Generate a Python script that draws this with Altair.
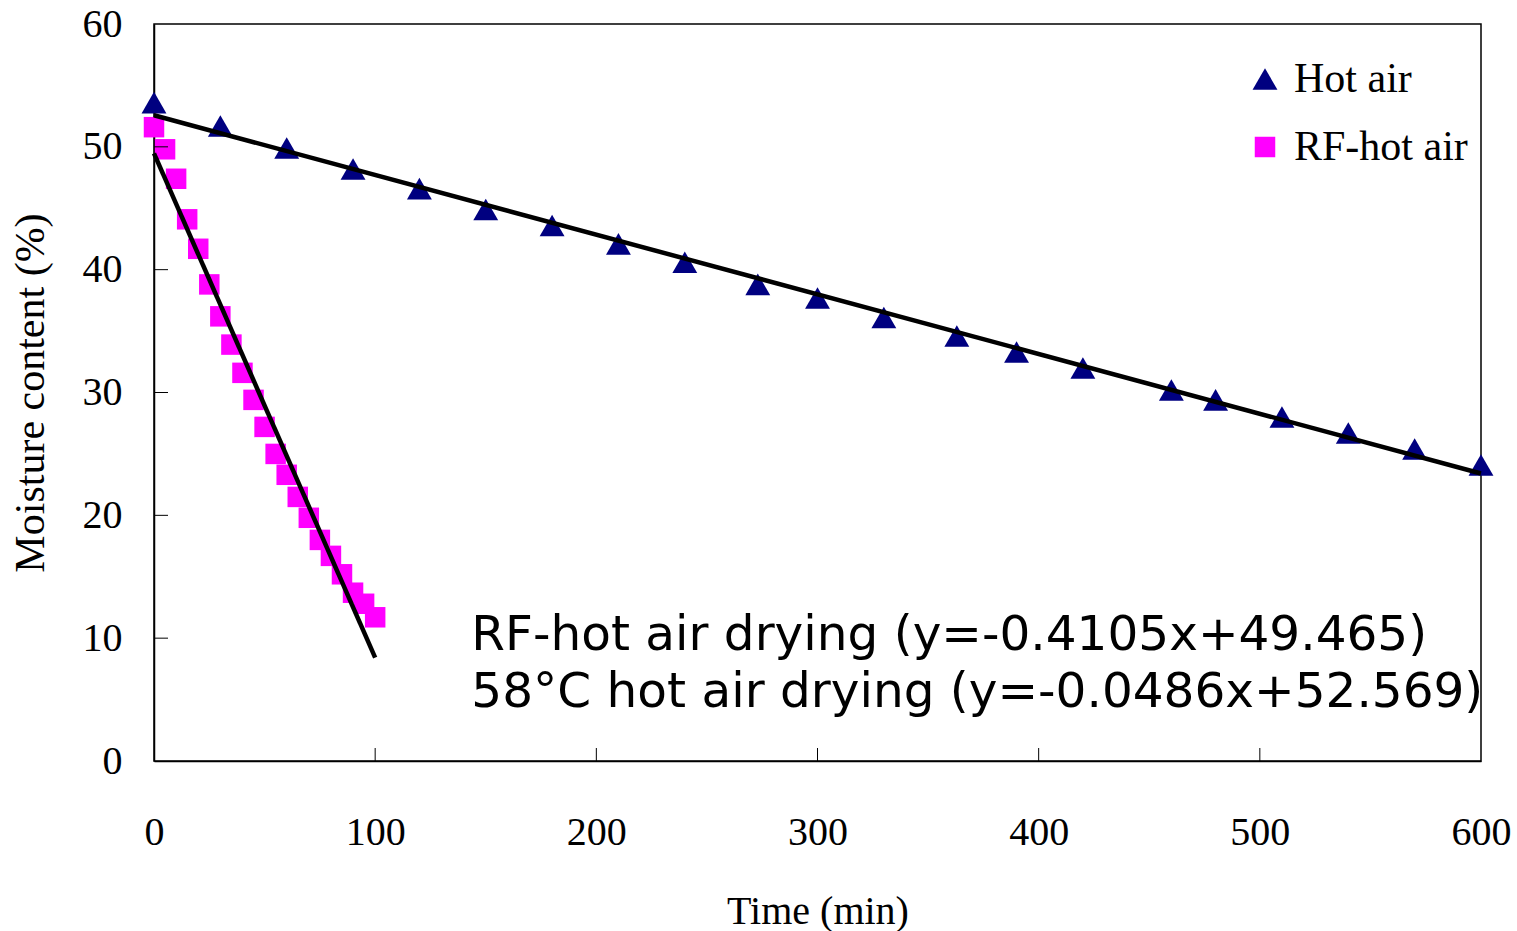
import altair as alt
import pandas as pd

# ---- data ----
hot_x = [0, 30, 60, 90, 120, 150, 180, 210, 240, 273, 300, 330, 363, 390, 420,
         460, 480, 510, 540, 570, 600]
hot_y = [53.6, 51.7, 49.9, 48.2, 46.6, 44.9, 43.6, 42.1, 40.6, 38.8, 37.7, 36.1,
         34.6, 33.3, 32.0, 30.2, 29.4, 28.0, 26.7, 25.4, 24.1]
rf_x = [0, 5, 10, 15, 20, 25, 30, 35, 40, 45, 50, 55, 60, 65, 70, 75, 80, 85,
        90, 95, 100]
rf_y = [51.6, 49.8, 47.4, 44.1, 41.7, 38.8, 36.2, 33.9, 31.6, 29.4, 27.2, 25.0,
        23.3, 21.5, 19.8, 18.0, 16.7, 15.2, 13.7, 12.8, 11.7]

series_names = ["Hot air", "RF-hot air"]
series_colors = ["#000080", "#FF00FF"]
series_shapes = ["triangle-up", "square"]
series_sizes = [620, 420]

# trendlines (slope, intercept, x-range) as printed on the chart
fit_slope = [-0.0486, -0.4105]
fit_intercept = [52.569, 49.465]
fit_xmin = [0, 0]
fit_xmax = [600, 100]

annot_text = ["RF-hot air drying (y=-0.4105x+49.465)",
              "58\u00b0C hot air drying (y=-0.0486x+52.569)"]
annot_x = [143.5, 143.5]
annot_y = [9.05, 4.4]

x_ticks = [100, 200, 300, 400, 500]
y_ticks = [10, 20, 30, 40, 50]

# ---- tables ----
pts = pd.DataFrame(
    {"t": hot_x + rf_x, "m": hot_y + rf_y,
     "series": ["Hot air"] * len(hot_x) + ["RF-hot air"] * len(rf_x)}
)
fit_rows = []
for s, b, x0, x1, name in zip(fit_slope, fit_intercept, fit_xmin, fit_xmax, series_names):
    for xv in (x0, x1):
        fit_rows.append({"t": xv, "m": s * xv + b, "series": name})
fits = pd.DataFrame(fit_rows)
ann = pd.DataFrame({"t": annot_x, "m": annot_y, "label": annot_text})

W, H = 1327, 737
xscale = alt.Scale(domain=[0, 600], nice=False, zero=False)
yscale = alt.Scale(domain=[0, 60], nice=False, zero=False)

serif = "Liberation Serif"

xaxis = alt.Axis(values=[0, 100, 200, 300, 400, 500, 600], ticks=False, grid=False,
                 labelFont=serif, labelFontSize=40, labelColor="black",
                 labelPadding=51, labelFlush=False,
                 domainColor="black", domainWidth=1.5,
                 title="Time (min)", titleFont=serif, titleFontSize=40,
                 titleFontWeight="normal", titleColor="black",
                 titleBaseline="middle", titleY=150, titleX=W / 2)
yaxis = alt.Axis(values=[0, 10, 20, 30, 40, 50, 60], ticks=False, grid=False,
                 labelFont=serif, labelFontSize=40, labelColor="black",
                 labelPadding=32, labelFlush=False,
                 domainColor="black", domainWidth=1.5,
                 title="Moisture content (%)", titleFont=serif, titleFontSize=42,
                 titleFontWeight="normal", titleColor="black",
                 titleAngle=-90, titleBaseline="middle", titleAlign="center",
                 titleX=-124, titleY=H / 2)


def make_legend():
    return alt.Legend(title=None, orient="none", legendX=1090, legendY=34,
                      labelFont=serif, labelFontSize=42, labelColor="black",
                      labelOffset=8, labelLimit=0, rowPadding=26, padding=0,
                      symbolStrokeWidth=0, symbolOpacity=1)


points = alt.Chart(pts).mark_point(filled=True, opacity=1).encode(
    x=alt.X("t:Q", scale=xscale, axis=xaxis),
    y=alt.Y("m:Q", scale=yscale, axis=yaxis),
    color=alt.Color("series:N",
                    scale=alt.Scale(domain=series_names, range=series_colors),
                    legend=make_legend()),
    shape=alt.Shape("series:N",
                    scale=alt.Scale(domain=series_names, range=series_shapes),
                    legend=make_legend()),
    size=alt.Size("series:N",
                  scale=alt.Scale(domain=series_names, range=series_sizes),
                  legend=make_legend()),
)

lines = alt.Chart(fits).mark_line(color="black", strokeWidth=4.5).encode(
    x=alt.X("t:Q", scale=xscale),
    y=alt.Y("m:Q", scale=yscale),
    detail="series:N",
)

xt = alt.Chart(pd.DataFrame({"t": x_ticks})).mark_rule(color="black", strokeWidth=1).encode(
    x=alt.X("t:Q", scale=xscale),
    y=alt.value(H - 13),
    y2=alt.value(H),
)
yt = alt.Chart(pd.DataFrame({"m": y_ticks})).mark_rule(color="black", strokeWidth=1).encode(
    y=alt.Y("m:Q", scale=yscale),
    x=alt.value(0),
    x2=alt.value(14),
)

text = alt.Chart(ann).mark_text(font="DejaVu Sans", fontSize=48.5, align="left",
                                baseline="alphabetic", color="black").encode(
    x=alt.X("t:Q", scale=xscale),
    y=alt.Y("m:Q", scale=yscale),
    text="label:N",
)

chart = alt.layer(points, lines, xt, yt, text).properties(
    width=W, height=H,
    autosize=alt.AutoSizeParams(type="none"),
    padding={"left": 154, "top": 24, "right": 36, "bottom": 170},
    background="white",
).configure_view(stroke="black", strokeWidth=1.5)

chart.save("out.html", embed_options={"renderer": "svg", "actions": False})
